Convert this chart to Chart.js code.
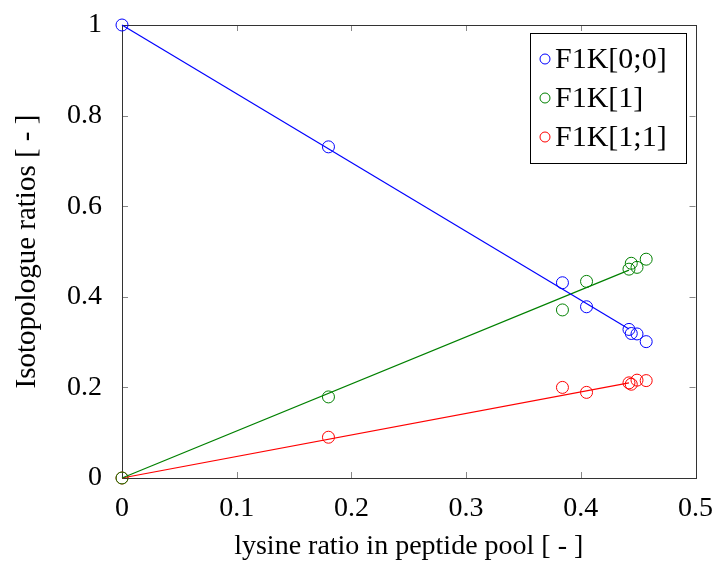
<!DOCTYPE html>
<html>
<head>
<meta charset="utf-8">
<script src="https://cdn.jsdelivr.net/npm/chart.js@4.4.0/dist/chart.umd.min.js"></script>
<style>
    html, body { margin: 0; padding: 0; background: #fff; }
    #wrap { width: 719px; height: 563px; }
</style>
</head>
<body>
<div id="wrap"><canvas id="isoChart" width="719" height="563"></canvas></div>
<script>
// measured points
const lysineRatio = [0, 0.180, 0.384, 0.405, 0.442, 0.444, 0.449, 0.457];
const f1k00 = [1.0, 0.731, 0.431, 0.378, 0.328, 0.319, 0.318, 0.301];
const f1k1 = [0.0, 0.179, 0.371, 0.434, 0.461, 0.474, 0.465, 0.483];
const f1k11 = [0.0, 0.090, 0.200, 0.189, 0.210, 0.207, 0.216, 0.215];

// fit lines (end points)
const fitX = [0, 0.442];
const fit00 = [1.0, 0.329];
const fit1 = [0.0, 0.459];
const fit11 = [0.0, 0.210];

const seriesLabels = ['F1K[0;0]', 'F1K[1]', 'F1K[1;1]'];
const seriesColors = ['#0000ff', '#008000', '#ff0000'];

const xTicks = [0, 0.1, 0.2, 0.3, 0.4, 0.5];
const yTicks = [0, 0.2, 0.4, 0.6, 0.8, 1];

const FONT = "'Liberation Serif', 'DejaVu Serif', serif";

function pts(xs, ys) {
    return xs.map((x, i) => ({ x: x, y: ys[i] }));
}

const markerSets = [f1k00, f1k1, f1k11].map((ys, i) => ({
    label: seriesLabels[i],
    data: pts(lysineRatio, ys),
    showLine: false,
    clip: false,
    borderColor: seriesColors[i],
    backgroundColor: 'rgba(0,0,0,0)',
    borderWidth: 1,
    pointRadius: 6,
    pointStyle: 'circle'
}));

const fitSets = [fit00, fit1, fit11].map((ys, i) => ({
    label: seriesLabels[i] + ' fit',
    data: pts(fitX, ys),
    showLine: true,
    clip: false,
    borderColor: seriesColors[i],
    borderWidth: 1.2,
    pointRadius: 0
}));

// frame + inward ticks on all four sides (drawn under the data)
const framePlugin = {
    id: 'frame',
    beforeDatasetsDraw(chart) {
        const ctx = chart.ctx;
        const a = chart.chartArea;
        const xs = chart.scales.x;
        const ys = chart.scales.y;
        const len = 6;
        ctx.save();
        ctx.strokeStyle = '#888';
        ctx.lineWidth = 1;
        ctx.beginPath();
        xTicks.forEach(v => {
            const px = Math.round(xs.getPixelForValue(v)) + 0.5;
            ctx.moveTo(px, a.bottom); ctx.lineTo(px, a.bottom - len);
            ctx.moveTo(px, a.top); ctx.lineTo(px, a.top + len);
        });
        yTicks.forEach(v => {
            const py = Math.round(ys.getPixelForValue(v)) + 0.5;
            ctx.moveTo(a.left, py); ctx.lineTo(a.left + len, py);
            ctx.moveTo(a.right, py); ctx.lineTo(a.right - len, py);
        });
        ctx.stroke();
        ctx.strokeStyle = '#333';
        ctx.strokeRect(Math.round(a.left) + 0.5, Math.round(a.top) + 0.5,
            Math.round(a.right - a.left), Math.round(a.bottom - a.top));
        ctx.restore();
    },
    // legend box inside the plot
    afterDraw(chart) {
        const ctx = chart.ctx;
        const bx = 530, by = 33, bw = 156, bh = 130;
        ctx.save();
        ctx.fillStyle = '#fff';
        ctx.fillRect(bx, by, bw, bh);
        ctx.strokeStyle = '#000';
        ctx.lineWidth = 1;
        ctx.strokeRect(bx + 0.5, by + 0.5, bw, bh);
        ctx.font = '30px ' + FONT;
        ctx.textBaseline = 'middle';
        seriesLabels.forEach((lab, i) => {
            const cy = by + 26 + i * 39;
            ctx.strokeStyle = seriesColors[i];
            ctx.beginPath();
            ctx.arc(bx + 15, cy, 5, 0, Math.PI * 2);
            ctx.stroke();
            ctx.fillStyle = '#000';
            ctx.fillText(lab, bx + 25, cy + 1);
        });
        ctx.restore();
    }
};

new Chart(document.getElementById('isoChart'), {
    type: 'scatter',
    data: { datasets: [...fitSets, ...markerSets] },
    options: {
        responsive: false,
        animation: false,
        layout: { padding: { top: 0, right: 22, left: 0, bottom: 0 } },
        plugins: {
            legend: { display: false },
            tooltip: { enabled: false }
        },
        scales: {
            x: {
                type: 'linear',
                min: 0,
                max: 0.5,
                afterBuildTicks: s => { s.ticks = xTicks.map(v => ({ value: v })); },
                afterFit: s => { s.height = 85; },
                grid: { display: false },
                border: { display: false },
                ticks: {
                    color: '#000',
                    padding: 6,
                    font: { family: FONT, size: 28 },
                    callback: v => String(v)
                },
                title: {
                    display: true,
                    text: 'lysine ratio in peptide pool [ - ]',
                    color: '#000',
                    font: { family: FONT, size: 28 },
                    padding: { top: 0, bottom: 0 }
                }
            },
            y: {
                type: 'linear',
                min: 0,
                max: 1,
                afterBuildTicks: s => { s.ticks = yTicks.map(v => ({ value: v })); },
                afterFit: s => { s.width = 122; },
                grid: { display: false },
                border: { display: false },
                ticks: {
                    color: '#000',
                    padding: 12,
                    font: { family: FONT, size: 28 },
                    callback: v => String(v)
                },
                title: {
                    display: true,
                    text: 'Isotopologue ratios [ - ]',
                    color: '#000',
                    font: { family: FONT, size: 29 },
                    padding: { top: 10, bottom: 2 }
                }
            }
        }
    },
    plugins: [framePlugin, {
        id: 'fixTop',
        // keep the plot frame top where the reference has it
        afterLayout(chart) {
            const ys = chart.scales.y;
            if (chart.chartArea.top !== 25) {
                chart.chartArea.top = 25;
                ys.top = 25;
                ys.height = ys.bottom - 25;
                ys.configure();
            }
        }
    }]
});
</script>
</body>
</html>
